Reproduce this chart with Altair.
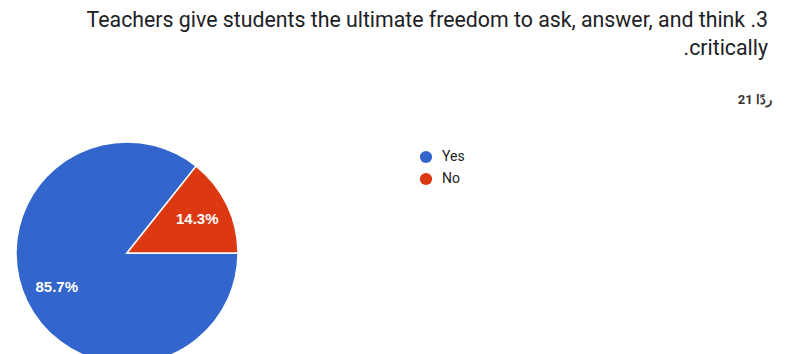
import math
import altair as alt
import pandas as pd

# Data
categories = ["Yes", "No"]
values = [85.7, 14.3]
labels = ["85.7%", "14.3%"]
colors = ["#3366CC", "#DC3912"]

title_lines = ["Teachers give students the ultimate freedom to ask, answer, and think .3",
               ".critically"]
subtitle = "21 ردًا"

df = pd.DataFrame({"answer": categories, "value": values, "label": labels,
                   "order": [0, 1]})

CX, CY, R = 127, 253, 111

base = alt.Chart(df).encode(
    theta=alt.Theta("value:Q", stack=True,
                    scale=alt.Scale(range=[math.pi / 2, math.pi / 2 + 2 * math.pi])),
    order=alt.Order("order:Q"),
)

pie = base.mark_arc(stroke="white", strokeWidth=1.5, outerRadius=R).encode(
    x=alt.value(CX), y=alt.value(CY),
    color=alt.Color("answer:N",
                    scale=alt.Scale(domain=categories, range=colors),
                    sort=categories,
                    legend=alt.Legend(title=None, orient="none", legendX=419, legendY=150,
                                      symbolType="circle", symbolSize=150,
                                      symbolStrokeWidth=0,
                                      labelFont="Roboto", labelFontSize=14,
                                      labelColor="#222222", rowPadding=8,
                                      labelOffset=9)),
)

text = base.mark_text(radius=78, font="Liberation Sans", fontSize=15,
                      fontWeight="bold", color="white").encode(
    x=alt.value(CX), y=alt.value(CY), text="label:N")

layers = [pie, text]
for line, ypos in zip(title_lines, [27, 55]):
    layers.append(
        alt.Chart(pd.DataFrame({"line": [line]})).mark_text(
            align="right", baseline="alphabetic", font="Roboto",
            fontSize=21.3, color="#202124").encode(
            x=alt.value(768), y=alt.value(ypos), text="line:N")
    )

sub = alt.Chart(pd.DataFrame({"s": [subtitle]})).mark_text(
    align="right", baseline="middle", font="Roboto", fontSize=13,
    fontWeight="bold", color="#333333").encode(
    x=alt.value(772), y=alt.value(100), text="s:N")
layers.append(sub)

chart = alt.layer(*layers).properties(
    width=786, height=354, padding=0, autosize=alt.AutoSizeParams(type="none")
).configure_view(stroke=None)

chart.save("out.html", embed_options={"renderer": "svg", "actions": False})
